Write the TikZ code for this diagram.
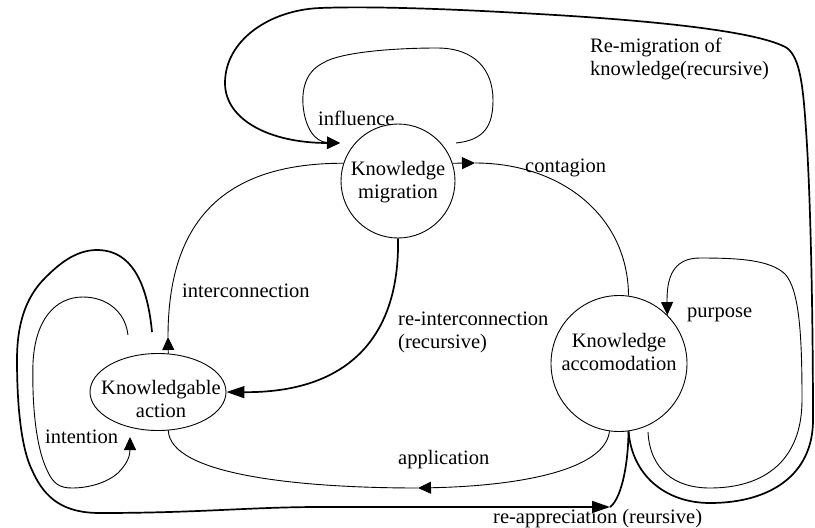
\documentclass[tikz,border=0pt]{standalone}
\usepackage{fontspec}
\setmainfont{Liberation Serif}
\usepackage{tikz}
\usetikzlibrary{arrows.meta,shapes.geometric}

\begin{document}
\begin{tikzpicture}[x=1pt,y=-1pt,
  every node/.style={font=\fontsize{20.5}{23}\selectfont},
  state/.style={draw, circle, inner sep=0pt, line width=0.9pt},
  txt/.style={align=center, inner sep=0pt},
  lbl/.style={align=left, inner sep=0pt, anchor=base west},
  edge/.style={line width=0.9pt},
  bold edge/.style={line width=1.7pt},
  tip/.style={-{Triangle[length=13pt,width=12pt]}},
  long tip/.style={-{Triangle[length=18pt,width=12pt]}}]
% Ciclo della conoscenza: migrazione, azione, accomodamento
\useasboundingbox (0,0) rectangle (815,528);

\coordinate (inflS) at (456,143);
\coordinate (inflT) at (340,143);
\coordinate (icT) at (168,337);
\coordinate (conT) at (475,163);
\coordinate (appT) at (418,488);
\coordinate (reapS) at (152,332);
\coordinate (reapT) at (610,507);
\coordinate (intS) at (128,335);
\coordinate (intT) at (130,437);
\coordinate (purS) at (648,432);

\node[state, minimum size=114pt] (mig) at (398,181) {};
\node[txt] (migtext) at (398,182) {Knowledge\\migration};

\node[state, minimum size=136pt] (acc) at (619,363.5) {};
\node[txt] (acctext) at (619,352) {Knowledge\\accomodation};

\node[draw, ellipse, minimum width=136pt, minimum height=77pt, inner sep=0pt, line width=0.9pt] (act) at (158,392) {};
\node[txt] (acttext) at (161,399) {Knowledgable\\action};

\node[lbl] (influence) at (318,125) {influence};
\node[lbl] (interconnection) at (182,297) {interconnection};
\node[lbl] (reinter) at (398,348) {re-interconnection\\(recursive)};
\node[lbl] (contagion) at (525,172) {contagion};
\node[lbl] (remig) at (590,75) {Re-migration of\\knowledge(recursive)};
\node[lbl] (purpose) at (687,317) {purpose};
\node[lbl] (application) at (398,464) {application};
\node[lbl] (intention) at (45,443) {intention};
\node[lbl] (reapp) at (493,523) {re-appreciation (reursive)};

\draw[edge][tip] (act.75) -- (icT);
\draw[edge] (icT) .. controls (168,230) and (215,163) .. (mig.162);

\draw[bold edge][long tip] (mig.south) .. controls (400,340) and (345,393) .. (act.east);

\draw[edge][tip] (mig.18) -- (conT);
\draw[edge] (conT) .. controls (560,163) and (628,215) .. (acc.82);

\draw[edge][tip] (acc.-98) .. controls (605,470) and (520,486) .. (appT);
\draw[edge] (appT) .. controls (300,488) and (170,475) .. (act.-75);

\draw[edge][tip] (inflS) .. controls (485,140) and (493,125) .. (493,100)
  .. controls (493,70) and (475,48) .. (437,48)
  .. controls (395,48) and (340,52) .. (323,63)
  .. controls (305,72) and (302,90) .. (303,105)
  .. controls (305,128) and (315,142) .. (inflT);

\draw[bold edge][tip] (acc.-82) .. controls (632,475) and (665,503) .. (710,503)
  .. controls (770,503) and (813,475) .. (813,420)
  .. controls (813,330) and (811,200) .. (806,130)
  .. controls (803,85) and (800,58) .. (787,48)
  .. controls (765,35) and (690,22) .. (520,13)
  .. controls (450,9) and (370,6) .. (320,8)
  .. controls (270,10) and (225,40) .. (225,83)
  .. controls (225,120) and (270,143) .. (inflT);

\draw[edge][tip] (intS) .. controls (125,310) and (105,297) .. (83,297)
  .. controls (55,297) and (35,320) .. (33,363)
  .. controls (32,400) and (35,445) .. (47,470)
  .. controls (53,484) and (60,488) .. (72,488)
  .. controls (90,488) and (108,482) .. (118,473)
  .. controls (128,463) and (130,455) .. (intT);

\draw[bold edge][long tip] (reapS) .. controls (148,290) and (135,250) .. (97,250)
  .. controls (75,250) and (58,265) .. (45,278)
  .. controls (25,298) and (17,325) .. (17,360)
  .. controls (17,410) and (22,450) .. (32,470)
  .. controls (45,500) and (65,513) .. (100,513)
  .. controls (200,513) and (250,507) .. (320,507) -- (reapT);
\draw[bold edge] (acc.-82) .. controls (628,470) and (620,500) .. (reapT);

\draw[edge][tip] (purS) .. controls (650,470) and (675,488) .. (710,488)
  .. controls (765,488) and (802,460) .. (802,400)
  .. controls (802,340) and (800,290) .. (785,274)
  .. controls (770,260) and (740,258) .. (700,258)
  .. controls (677,258) and (667,272) .. (667,300) -- (acc.45);
\end{tikzpicture}
\end{document}
